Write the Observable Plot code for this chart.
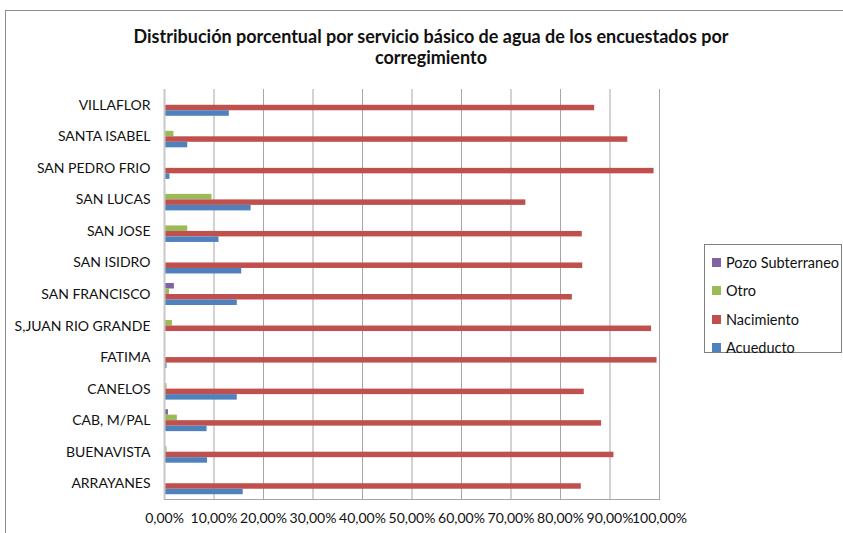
<!DOCTYPE html>
<html><head><meta charset="utf-8">
<script src="https://cdn.jsdelivr.net/npm/d3@7"></script>
<script src="https://cdn.jsdelivr.net/npm/@observablehq/plot@0.6"></script>
<style>
body{margin:0;background:#fff;font-family:Lato,"Open Sans",sans-serif;}
#wrap{position:relative;width:843px;height:533px;overflow:hidden;background:#fff;}
#border{position:absolute;left:5px;top:10px;width:900px;height:600px;border:1px solid #8c8c8c;box-sizing:border-box;}
#title{position:absolute;left:0;top:26px;width:862px;text-align:center;font-weight:bold;font-size:18px;line-height:21px;color:#111;}
#chart{position:absolute;left:0;top:80px;line-height:0;}
#legend{position:absolute;left:704px;top:244px;width:138px;height:109px;border:1px solid #7f7f7f;box-sizing:border-box;}
.li{position:absolute;left:7px;font-size:14.5px;color:#111;display:flex;align-items:center;height:20px;white-space:nowrap;}
.sw{width:9px;height:9px;margin-right:5px;flex:none;}
</style></head>
<body>
<div id="wrap">
  <div id="border"></div>
  <div id="title">Distribución porcentual por servicio básico de agua de los encuestados por<br>corregimiento</div>
  <div id="chart"></div>
  <div id="legend"></div>
</div>
<script>
const categories = ["VILLAFLOR","SANTA ISABEL","SAN PEDRO FRIO","SAN LUCAS","SAN JOSE","SAN ISIDRO","SAN FRANCISCO","S,JUAN RIO GRANDE","FATIMA","CANELOS","CAB, M/PAL","BUENAVISTA","ARRAYANES"];
const pozo       = [0, 0, 0, 0, 0, 0, 2.0, 0, 0, 0, 0.8, 0, 0];
const otro       = [0, 1.9, 0, 9.6, 4.7, 0, 1.0, 1.6, 0, 0.5, 2.6, 0.5, 0];
const nacimiento = [86.9, 93.6, 98.9, 73.0, 84.4, 84.5, 82.4, 98.4, 99.5, 84.8, 88.3, 90.8, 84.2];
const acueducto  = [13.1, 4.7, 1.1, 17.5, 11.0, 15.6, 14.7, 0, 0.5, 14.7, 8.6, 8.7, 15.9];
const seriesNames = ["Pozo Subterraneo","Otro","Nacimiento","Acueducto"];
const seriesColors = ["#8064A2","#9BBB59","#C0504D","#4F81BD"];
const xTicks = [0,10,20,30,40,50,60,70,80,90,100];

const seriesValues = [pozo, otro, nacimiento, acueducto];
const height = 450, marginTop = 9, marginBottom = 31;
const step = (height - marginTop - marginBottom) / categories.length;
const barH = 5.5;
const off = (step - barH * seriesNames.length) / 2;

const barMarks = seriesNames.map((name, i) => {
  const data = categories.map((c, j) => ({cat: c, value: seriesValues[i][j], series: name}));
  return Plot.barX(data, {
    x: "value", y: "cat", fill: "series",
    insetTop: off + barH * i,
    insetBottom: step - off - barH * (i + 1)
  });
});

const fmt = d => d.toFixed(2).replace(".", ",") + "%";

const plot = Plot.plot({
  width: 843, height,
  marginLeft: 164, marginRight: 184, marginTop, marginBottom,
  style: {fontFamily: "Lato, 'Open Sans', sans-serif", fontSize: "14px", color: "#111", background: "transparent"},
  x: {domain: [0, 100]},
  y: {domain: categories, padding: 0, round: false},
  color: {domain: seriesNames, range: seriesColors},
  marks: [
    Plot.ruleX(xTicks.slice(1), {stroke: "#a6a6a6", strokeWidth: 1, strokeOpacity: 1}),
    Plot.frame({anchor: "bottom", stroke: "#a6a6a6"}),
    ...barMarks,
    Plot.ruleX([0], {stroke: "#c8c8c8", strokeWidth: 2}),
    Plot.axisY({tickSize: 0, tickPadding: 14, fontSize: 14, label: null}),
    Plot.axisX({ticks: xTicks, tickFormat: fmt, tickSize: 0, tickPadding: 14, fontSize: 14, label: null})
  ]
});
document.getElementById("chart").appendChild(plot);

const color = plot.scale("color");
const legend = document.getElementById("legend");
seriesNames.forEach((name, i) => {
  const item = document.createElement("div");
  item.className = "li";
  item.style.top = (7 + 28.5 * i) + "px";
  item.innerHTML = `<span class="sw" style="background:${color.apply(name)}"></span>${name}`;
  legend.appendChild(item);
});
</script>
</body></html>
